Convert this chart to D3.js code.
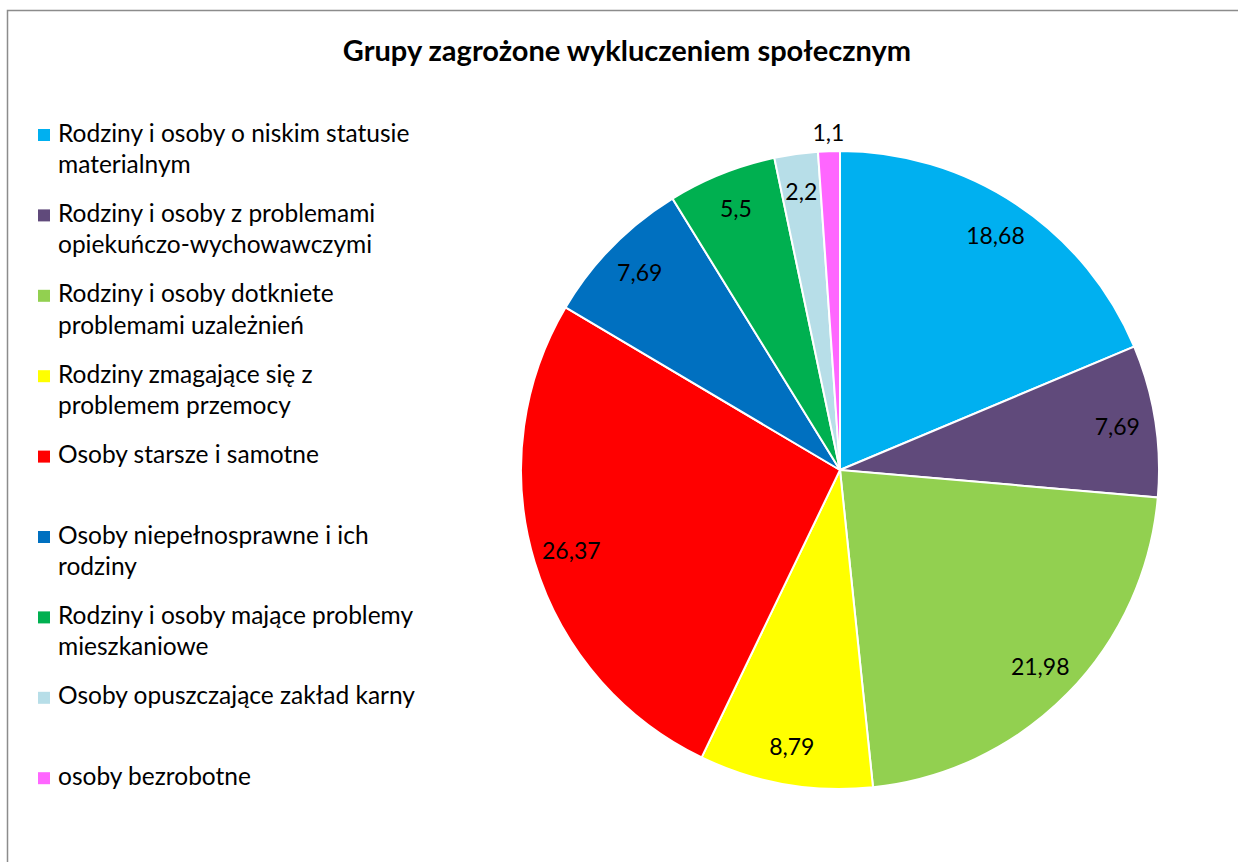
<!DOCTYPE html>
<html>
<head>
<meta charset="utf-8">
<script src="https://cdn.jsdelivr.net/npm/d3@7"></script>
<style>
  body { margin: 0; background: #fff; }
  svg { font-family: Lato, "Open Sans", sans-serif; }
</style>
</head>
<body>
<div id="chart"></div>
<script>
const categories = [
  'Rodziny i osoby o niskim statusie materialnym',
  'Rodziny i osoby z problemami opiekuńczo-wychowawczymi',
  'Rodziny i osoby dotkniete problemami uzależnień',
  'Rodziny zmagające się z problemem przemocy',
  'Osoby starsze i samotne',
  'Osoby niepełnosprawne i ich rodziny',
  'Rodziny i osoby mające problemy mieszkaniowe',
  'Osoby opuszczające zakład karny',
  'osoby bezrobotne'
];
const values = [18.68, 7.69, 21.98, 8.79, 26.37, 7.69, 5.5, 2.2, 1.1];
const valueLabels = ['18,68', '7,69', '21,98', '8,79', '26,37', '7,69', '5,5', '2,2', '1,1'];
const colors = ['#00B0F0', '#604A7B', '#92D050', '#FFFF00', '#FF0000', '#0070C0', '#00B050', '#B7DEE8', '#FF66FF'];

const width = 1238, height = 862;
const cx = 840, cy = 470, radius = 319;

const svg = d3.select('#chart').append('svg')
  .attr('width', width)
  .attr('height', height);

// chart area border (runs off the right and bottom)
svg.append('rect')
  .attr('x', 7.5).attr('y', 10.5)
  .attr('width', 1260).attr('height', 900)
  .attr('fill', '#fff')
  .attr('stroke', '#8c8c8c')
  .attr('stroke-width', 1.5);

svg.append('text')
  .attr('x', 627).attr('y', 61)
  .attr('text-anchor', 'middle')
  .style('font-weight', 'bold')
  .style('font-size', '29px')
  .text('Grupy zagrożone wykluczeniem społecznym');

const data = categories.map((c, i) => ({ name: c, value: values[i], label: valueLabels[i], color: colors[i] }));

const pie = d3.pie().value(d => d.value).sort(null);
const arc = d3.arc().innerRadius(0).outerRadius(radius);
const labelArc = d3.arc().innerRadius(radius * 0.88).outerRadius(radius * 0.88);
const outerLabelArc = d3.arc().innerRadius(radius + 18).outerRadius(radius + 18);

const g = svg.append('g').attr('transform', `translate(${cx},${cy})`);
const arcs = pie(data);

g.selectAll('path.slice')
  .data(arcs)
  .enter()
  .append('path')
  .classed('slice', true)
  .attr('d', arc)
  .attr('fill', d => d.data.color)
  .attr('stroke', '#fff')
  .attr('stroke-width', 2);

g.selectAll('text.val')
  .data(arcs)
  .enter()
  .append('text')
  .classed('val', true)
  .attr('transform', d => `translate(${(d.data.value < 2 ? outerLabelArc : labelArc).centroid(d)})`)
  .attr('text-anchor', 'middle')
  .attr('dy', '0.35em')
  .style('font-size', '23px')
  .text(d => d.data.label);

// legend
const legend = svg.append('g').attr('transform', 'translate(38,133)');
const maxW = 365;
data.forEach((d, i) => {
  const item = legend.append('g').attr('transform', `translate(0,${i * 80.4})`);
  item.append('rect')
    .attr('x', 0).attr('y', -4)
    .attr('width', 12).attr('height', 12)
    .attr('fill', d.color);
  const t = item.append('text')
    .attr('x', 20)
    .style('font-size', '24.5px');
  // simple word wrap
  const words = d.name.split(' ');
  let line = [], lineNo = 0;
  let tspan = t.append('tspan').attr('x', 20).attr('y', 0).attr('dy', '0.35em');
  words.forEach(w => {
    line.push(w);
    tspan.text(line.join(' '));
    if (tspan.node().getComputedTextLength() > maxW && line.length > 1) {
      line.pop();
      tspan.text(line.join(' '));
      line = [w];
      lineNo++;
      tspan = t.append('tspan').attr('x', 20).attr('y', lineNo * 31.5).attr('dy', '0.35em').text(w);
    }
  });
});
</script>
</body>
</html>
